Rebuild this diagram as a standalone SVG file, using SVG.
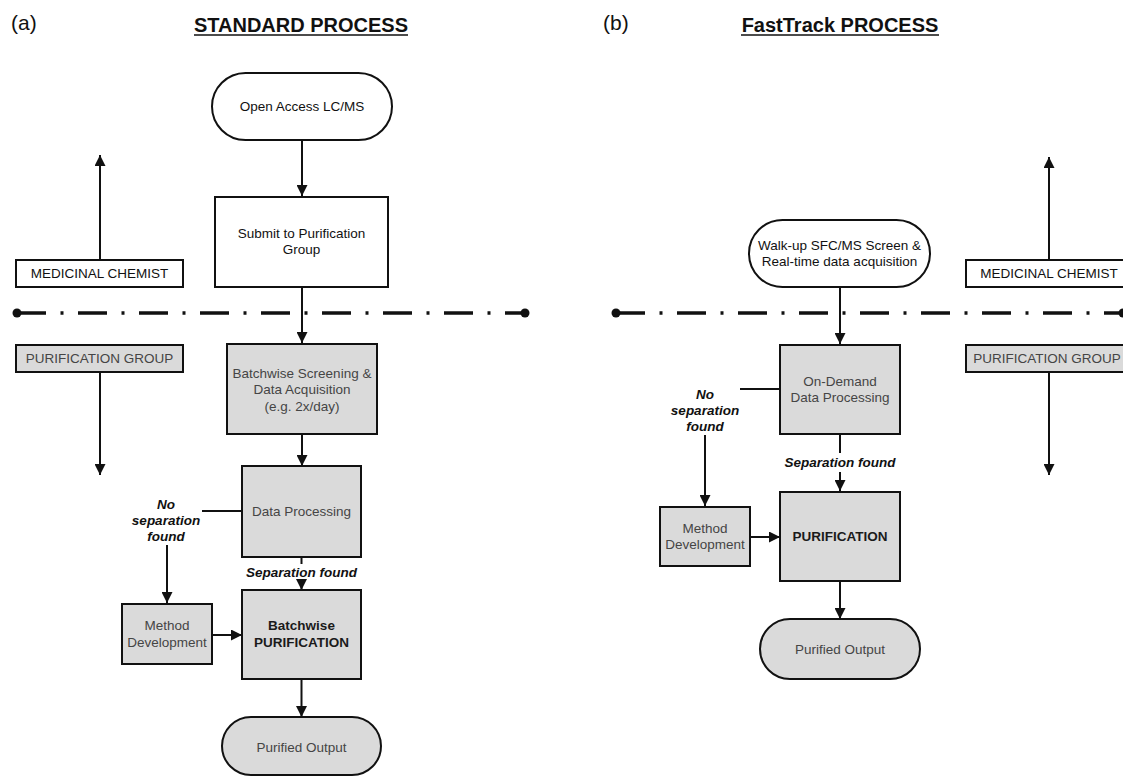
<svg xmlns="http://www.w3.org/2000/svg" width="1123" height="776" viewBox="0 0 1123 776">
<style>
.box{stroke:#111;stroke-width:2}
.w{fill:#fff}
.g{fill:#dadada}
.t{font-family:"Liberation Sans",Arial,sans-serif;font-size:13.5px;text-anchor:middle;fill:#111}
.tg{fill:#454545}
.bold{font-weight:bold;fill:#1a1a1a}
.lbl{font-family:"Liberation Sans",Arial,sans-serif;font-size:13.5px;font-weight:bold;font-style:italic;text-anchor:middle;fill:#111}
.title{font-family:"Liberation Sans",Arial,sans-serif;font-size:20px;font-weight:bold;text-anchor:middle;fill:#111}
.pl{font-family:"Liberation Sans",Arial,sans-serif;font-size:21px;fill:#111}
.ul{stroke:#111;stroke-width:1.6}
.c line{stroke:#111;stroke-width:2;fill:none}
.dd{stroke:#111;stroke-width:3.5;stroke-dasharray:29 14.5 3 14.5;fill:none}
</style>
<defs>
<marker id="ah" viewBox="0 0 10 10" markerWidth="11" markerHeight="11" markerUnits="userSpaceOnUse" refX="10" refY="5" orient="auto">
<path d="M0,0 L10,5 L0,10 z" fill="#111"/>
</marker>
</defs>
<rect width="1123" height="776" fill="#fff"/>

<g id="headers">
<text class="pl" x="11" y="30">(a)</text>
<text class="title" x="301" y="32">STANDARD PROCESS</text>
<line class="ul" x1="194" y1="35" x2="408" y2="35"/>
<text class="pl" x="603" y="30">(b)</text>
<text class="title" x="840" y="32">FastTrack PROCESS</text>
<line class="ul" x1="741" y1="35" x2="939" y2="35"/>
</g>

<g id="swimlane-dividers">
<line class="dd" x1="17" y1="313" x2="525" y2="313"/>
<circle cx="17" cy="313" r="4.5" fill="#111"/>
<circle cx="525" cy="313" r="4.5" fill="#111"/>
<line class="dd" x1="616" y1="313" x2="1123" y2="313"/>
<circle cx="616" cy="313" r="4.5" fill="#111"/>
<circle cx="1123" cy="313" r="4.5" fill="#111"/>
</g>

<g id="connectors" class="c">
<line x1="302" y1="140" x2="302" y2="196" marker-end="url(#ah)"/>
<line x1="302" y1="287" x2="302" y2="343" marker-end="url(#ah)"/>
<line x1="302" y1="434" x2="302" y2="466" marker-end="url(#ah)"/>
<line x1="100" y1="260" x2="100" y2="155" marker-end="url(#ah)"/>
<line x1="100" y1="372" x2="100" y2="475" marker-end="url(#ah)"/>
<line x1="202" y1="511" x2="242" y2="511"/>
<line x1="167" y1="545" x2="167" y2="603" marker-end="url(#ah)"/>
<line x1="212" y1="635" x2="242" y2="635" marker-end="url(#ah)"/>
<line x1="301.5" y1="557" x2="301.5" y2="564"/>
<line x1="301.5" y1="580" x2="301.5" y2="590" marker-end="url(#ah)"/>
<line x1="301.5" y1="679" x2="301.5" y2="717" marker-end="url(#ah)"/>

<line x1="840" y1="287" x2="840" y2="344" marker-end="url(#ah)"/>
<line x1="1049" y1="260" x2="1049" y2="157" marker-end="url(#ah)"/>
<line x1="1049" y1="372" x2="1049" y2="475" marker-end="url(#ah)"/>
<line x1="740" y1="389" x2="780" y2="389"/>
<line x1="705" y1="435" x2="705" y2="506" marker-end="url(#ah)"/>
<line x1="750" y1="537" x2="780" y2="537" marker-end="url(#ah)"/>
<line x1="840" y1="434" x2="840" y2="453"/>
<line x1="840" y1="472" x2="840" y2="491" marker-end="url(#ah)"/>
<line x1="840" y1="581" x2="840" y2="619" marker-end="url(#ah)"/>
</g>

<g id="labels">
<text class="lbl" x="166" y="509">No</text>
<text class="lbl" x="166" y="525">separation</text>
<text class="lbl" x="166" y="541">found</text>
<text class="lbl" x="301.5" y="577">Separation found</text>
<text class="lbl" x="705" y="399">No</text>
<text class="lbl" x="705" y="415">separation</text>
<text class="lbl" x="705" y="431">found</text>
<text class="lbl" x="840" y="467">Separation found</text>
</g>

<g id="a-open-access">
<rect class="box w" x="212" y="73" width="180" height="67" rx="33.5"/>
<text class="t" x="302" y="111">Open Access LC/MS</text>
</g>
<g id="a-submit">
<rect class="box w" x="215" y="197" width="173" height="90"/>
<text class="t" x="301.5" y="238">Submit to Purification</text>
<text class="t" x="301.5" y="254">Group</text>
</g>
<g id="a-medchem">
<rect class="box w" x="16" y="260" width="167" height="27"/>
<text class="t" x="99.5" y="278">MEDICINAL CHEMIST</text>
</g>
<g id="a-purgroup">
<rect class="box g" x="16" y="345" width="167" height="27"/>
<text class="t tg" x="99.5" y="363">PURIFICATION GROUP</text>
</g>
<g id="a-batch-screen">
<rect class="box g" x="227" y="344" width="150" height="90"/>
<text class="t tg" x="302" y="378">Batchwise Screening &amp;</text>
<text class="t tg" x="302" y="394">Data Acquisition</text>
<text class="t tg" x="302" y="411">(e.g. 2x/day)</text>
</g>
<g id="a-data-proc">
<rect class="box g" x="242" y="466" width="119" height="91"/>
<text class="t tg" x="301.5" y="516">Data Processing</text>
</g>
<g id="a-method-dev">
<rect class="box g" x="122" y="604" width="90" height="60"/>
<text class="t tg" x="167" y="630">Method</text>
<text class="t tg" x="167" y="647">Development</text>
</g>
<g id="a-batch-pur">
<rect class="box g" x="242" y="590" width="119" height="89"/>
<text class="t bold" x="301.5" y="630">Batchwise</text>
<text class="t bold" x="301.5" y="647">PURIFICATION</text>
</g>
<g id="a-purified">
<rect class="box g" x="222" y="717" width="159" height="58" rx="29"/>
<text class="t tg" x="301.5" y="752">Purified Output</text>
</g>

<g id="b-walkup">
<rect class="box w" x="749" y="220" width="181" height="67" rx="33.5"/>
<text class="t" x="839.5" y="250">Walk-up SFC/MS Screen &amp;</text>
<text class="t" x="839.5" y="266">Real-time data acquisition</text>
</g>
<g id="b-medchem">
<rect class="box w" x="966" y="260" width="170" height="27"/>
<text class="t" x="1049" y="278">MEDICINAL CHEMIST</text>
</g>
<g id="b-purgroup">
<rect class="box g" x="966" y="345" width="170" height="27"/>
<text class="t tg" x="1047" y="363">PURIFICATION GROUP</text>
</g>
<g id="b-ondemand">
<rect class="box g" x="780" y="345" width="120" height="89"/>
<text class="t tg" x="840" y="386">On-Demand</text>
<text class="t tg" x="840" y="402">Data Processing</text>
</g>
<g id="b-method-dev">
<rect class="box g" x="660" y="507" width="90" height="59"/>
<text class="t tg" x="705" y="533">Method</text>
<text class="t tg" x="705" y="549">Development</text>
</g>
<g id="b-pur">
<rect class="box g" x="780" y="492" width="120" height="89"/>
<text class="t bold" x="840" y="541">PURIFICATION</text>
</g>
<g id="b-purified">
<rect class="box g" x="760" y="619" width="160" height="60" rx="30"/>
<text class="t tg" x="840" y="654">Purified Output</text>
</g>
</svg>
